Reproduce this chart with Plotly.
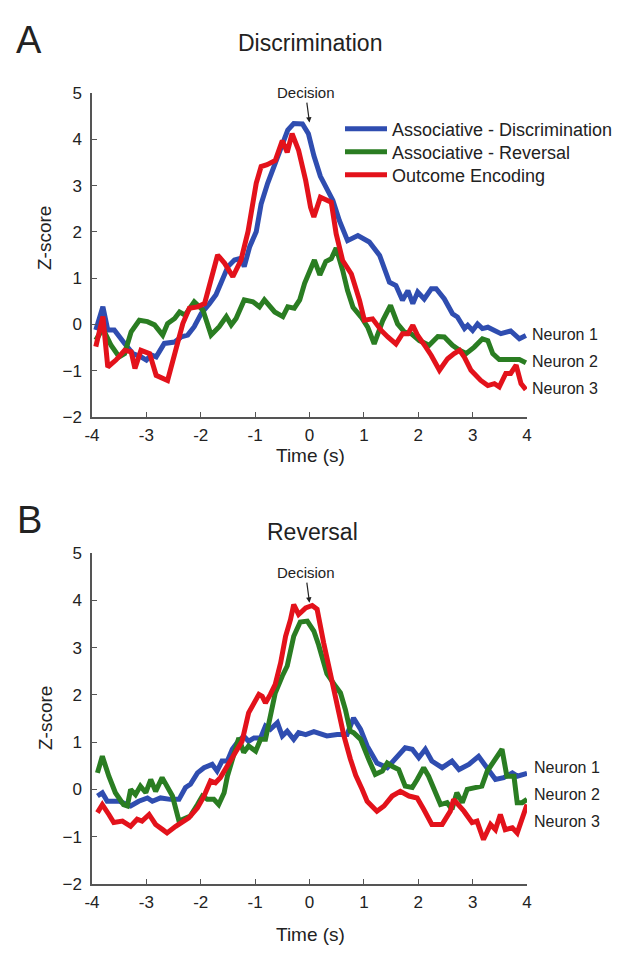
import plotly.graph_objects as go

# ---------------- data ----------------
# Panel A: Discrimination
a_blue_t = [-3.93, -3.80, -3.71, -3.59, -3.40, -3.25, -3.10, -3.00, -2.91, -2.82, -2.67, -2.48, -2.36, -2.24,
            -2.12, -1.99, -1.84, -1.72, -1.63, -1.50, -1.38, -1.26, -1.20, -1.10, -0.98, -0.89, -0.77, -0.64,
            -0.52, -0.40, -0.29, -0.13, -0.02, 0.08, 0.20, 0.43, 0.55, 0.70, 0.89, 1.10, 1.29, 1.47, 1.59,
            1.71, 1.81, 1.90, 1.99, 2.11, 2.24, 2.33, 2.48, 2.63, 2.72, 2.85, 2.91, 3.00, 3.09, 3.18, 3.28,
            3.40, 3.52, 3.70, 3.86, 3.98]
a_blue_v = [-0.12, 0.38, -0.12, -0.12, -0.41, -0.63, -0.70, -0.77, -0.66, -0.70, -0.41, -0.38, -0.27, -0.23,
            -0.05, 0.24, 0.45, 0.64, 0.89, 1.25, 1.39, 1.43, 1.25, 1.68, 2.00, 2.60, 3.05, 3.45,
            3.85, 4.20, 4.34, 4.33, 4.12, 3.65, 3.20, 2.68, 2.24, 1.81, 1.92, 1.78, 1.49, 0.91, 0.84,
            0.52, 0.73, 0.45, 0.70, 0.55, 0.77, 0.77, 0.55, 0.23, 0.16, -0.09, -0.02, -0.13, 0.01, -0.09, -0.06,
            -0.13, -0.20, -0.14, -0.31, -0.24]

a_green_t = [-3.93, -3.80, -3.65, -3.50, -3.40, -3.28, -3.13, -2.98, -2.85, -2.70, -2.61, -2.48, -2.39, -2.29,
             -2.12, -1.96, -1.81, -1.66, -1.53, -1.44, -1.35, -1.20, -1.04, -0.92, -0.83, -0.64, -0.49, -0.40,
             -0.28, -0.18, -0.09, 0.00, 0.09, 0.19, 0.30, 0.40, 0.49, 0.61, 0.70, 0.80, 0.95, 1.07, 1.19,
             1.35, 1.49, 1.62, 1.75, 1.87, 2.02, 2.20, 2.36, 2.48, 2.63, 2.76, 2.88, 3.03, 3.18, 3.28,
             3.37, 3.49, 3.70, 3.86, 3.98]
a_green_v = [-0.34, -0.09, -0.45, -0.70, -0.63, -0.16, 0.09, 0.06, -0.01, -0.23, 0.02, 0.13, 0.27, 0.20,
             0.49, 0.31, -0.23, -0.05, 0.17, -0.01, 0.13, 0.53, 0.49, 0.38, 0.53, 0.27, 0.17, 0.38,
             0.35, 0.53, 0.89, 1.14, 1.39, 1.07, 1.36, 1.42, 1.65, 1.17, 0.73, 0.37, 0.16, -0.06, -0.42,
             0.09, 0.41, 0.01, -0.17, -0.20, -0.35, -0.45, -0.26, -0.27, -0.45, -0.56, -0.63, -0.49, -0.31, -0.35,
             -0.63, -0.76, -0.76, -0.76, -0.83]

a_red_t = [-3.93, -3.80, -3.71, -3.56, -3.40, -3.28, -3.21, -3.10, -2.94, -2.82, -2.61, -2.48, -2.33, -2.21,
           -2.06, -1.93, -1.81, -1.69, -1.56, -1.41, -1.26, -1.13, -0.98, -0.89, -0.78, -0.63, -0.50, -0.41,
           -0.32, -0.20, -0.07, 0.02, 0.08, 0.20, 0.40, 0.49, 0.61, 0.77, 0.92, 1.01, 1.16, 1.32, 1.44,
           1.59, 1.71, 1.81, 1.90, 1.99, 2.14, 2.24, 2.39, 2.54, 2.66, 2.76, 2.85, 2.97, 3.15, 3.28,
           3.40, 3.49, 3.61, 3.70, 3.80, 3.89, 3.98]
a_red_v = [-0.48, 0.17, -0.92, -0.77, -0.56, -0.59, -0.95, -0.56, -0.63, -1.10, -1.21, -0.63, 0.02, 0.35,
           0.38, 0.45, 0.96, 1.50, 1.32, 1.03, 1.39, 2.01, 3.05, 3.41, 3.45, 3.54, 3.97, 3.72,
           4.12, 3.76, 3.11, 2.53, 2.32, 2.75, 2.64, 1.96, 1.38, 1.09, 0.52, 0.09, 0.12, -0.13, -0.27,
           -0.42, -0.20, -0.20, -0.02, -0.24, -0.49, -0.67, -0.99, -0.74, -0.63, -0.56, -0.71, -0.99, -1.21, -1.32,
           -1.28, -1.35, -1.06, -1.06, -0.88, -1.28, -1.41]

# Panel B: Reversal
b_blue_t = [-3.90, -3.81, -3.72, -3.50, -3.35, -3.29, -3.14, -2.98, -2.89, -2.74, -2.56, -2.40, -2.28, -2.19,
            -2.06, -1.94, -1.79, -1.70, -1.61, -1.51, -1.42, -1.33, -1.21, -1.12, -1.02, -0.90, -0.81, -0.72,
            -0.59, -0.50, -0.41, -0.29, -0.20, -0.07, 0.08, 0.32, 0.51, 0.69, 0.81, 0.94, 1.06, 1.24, 1.43,
            1.61, 1.76, 1.89, 2.01, 2.13, 2.25, 2.44, 2.62, 2.75, 2.93, 3.11, 3.27, 3.42, 3.57, 3.73, 3.82, 4.00]
b_blue_v = [-0.14, -0.07, -0.25, -0.25, -0.32, -0.35, -0.25, -0.18, -0.25, -0.18, -0.21, -0.21, 0.04, 0.11,
            0.35, 0.46, 0.53, 0.39, 0.60, 0.60, 0.85, 0.99, 1.13, 1.02, 1.09, 1.09, 1.34, 1.27,
            1.41, 1.13, 1.23, 1.06, 1.20, 1.16, 1.22, 1.13, 1.16, 1.16, 1.51, 1.27, 0.92, 0.56, 0.46,
            0.70, 0.88, 0.85, 0.67, 0.85, 0.60, 0.46, 0.60, 0.42, 0.53, 0.70, 0.46, 0.21, 0.25, 0.35, 0.28, 0.34]

b_green_t = [-3.90, -3.81, -3.69, -3.57, -3.42, -3.35, -3.29, -3.20, -3.11, -3.01, -2.92, -2.83, -2.71, -2.62,
             -2.52, -2.40, -2.28, -2.19, -2.06, -1.97, -1.88, -1.76, -1.67, -1.57, -1.51, -1.42, -1.30, -1.21,
             -1.12, -0.99, -0.90, -0.81, -0.72, -0.63, -0.50, -0.41, -0.29, -0.17, -0.04, 0.08, 0.17, 0.32,
             0.48, 0.57, 0.66, 0.75, 0.81, 0.94, 1.09, 1.21, 1.34, 1.43, 1.52, 1.64, 1.76, 1.89, 1.98, 2.10,
             2.19, 2.29, 2.41, 2.53, 2.62, 2.71, 2.81, 2.90, 3.02, 3.17, 3.27, 3.39, 3.54, 3.63, 3.76, 3.82,
             3.91, 4.00]
b_green_v = [0.35, 0.70, 0.28, -0.07, -0.32, -0.35, 0.00, -0.11, 0.07, -0.07, 0.21, -0.04, 0.25, 0.04,
             -0.14, -0.67, -0.60, -0.56, -0.32, -0.14, -0.21, -0.21, -0.32, -0.07, 0.28, 0.63, 1.09, 0.78,
             0.92, 0.81, 1.06, 1.06, 1.62, 2.04, 2.40, 2.61, 3.24, 3.54, 3.56, 3.35, 3.05, 2.45,
             2.18, 2.04, 1.69, 1.23, 1.20, 1.06, 0.63, 0.32, 0.39, 0.56, 0.49, 0.42, 0.07, 0.04, 0.21, 0.46,
             0.28, 0.00, -0.32, -0.28, -0.42, -0.07, -0.28, 0.00, 0.04, 0.07, 0.39, 0.60, 0.85, 0.28, 0.28, -0.28,
             -0.28, -0.21]

b_red_t = [-3.90, -3.81, -3.69, -3.60, -3.44, -3.29, -3.17, -3.08, -2.95, -2.83, -2.70, -2.62, -2.46, -2.34,
           -2.22, -2.06, -1.94, -1.82, -1.73, -1.64, -1.51, -1.36, -1.24, -1.12, -1.02, -0.93, -0.87, -0.81,
           -0.72, -0.63, -0.53, -0.44, -0.35, -0.29, -0.20, -0.07, 0.05, 0.14, 0.26, 0.39, 0.51, 0.63, 0.75,
           0.85, 0.97, 1.06, 1.24, 1.37, 1.52, 1.67, 1.83, 1.98, 2.10, 2.25, 2.44, 2.59, 2.65, 2.84, 2.99,
           3.08, 3.20, 3.33, 3.42, 3.51, 3.60, 3.73, 3.82, 3.91, 4.00]
b_red_v = [-0.49, -0.32, -0.53, -0.70, -0.67, -0.78, -0.63, -0.67, -0.53, -0.74, -0.85, -0.92, -0.78, -0.70,
           -0.60, -0.39, -0.14, 0.18, 0.14, 0.25, 0.49, 0.78, 1.02, 1.62, 1.83, 2.01, 1.97, 1.83,
           2.01, 2.22, 2.68, 3.24, 3.59, 3.91, 3.70, 3.84, 3.89, 3.81, 3.10, 2.40, 1.80, 1.15, 0.65,
           0.30, 0.00, -0.25, -0.46, -0.35, -0.14, -0.04, -0.14, -0.18, -0.42, -0.74, -0.74, -0.46, -0.21, -0.46, -0.70,
           -0.67, -1.06, -0.74, -0.85, -0.53, -0.85, -0.81, -0.92, -0.60, -0.32]

series_names = ["Associative - Discrimination", "Associative - Reversal", "Outcome Encoding"]
neuron_labels = ["Neuron 1", "Neuron 2", "Neuron 3"]
x_ticks = [-4, -3, -2, -1, 0, 1, 2, 3, 4]
x_ticktext = ["-4", "-3", "-2", "-1", "0", "1", "2", "3", "4"]
y_ticks = [-2, -1, 0, 1, 2, 3, 4, 5]

# ---------------- styling ----------------
W, H = 626, 958
OFF = 8  # page body margin offset of the rendered figure
FONT = "Liberation Sans, Arial, sans-serif"
colors = ["#2f4db0", "#2a7d22", "#e3121b"]


def px(x):
    return (x - OFF) / W


def py(y):
    return 1 - (y - OFF) / H


fig = go.Figure()
panelA = [(a_blue_t, a_blue_v), (a_green_t, a_green_v), (a_red_t, a_red_v)]
panelB = [(b_blue_t, b_blue_v), (b_green_t, b_green_v), (b_red_t, b_red_v)]
legend_ids = ["legend", "legend2", "legend3"]
for i, (t, v) in enumerate(panelA):
    fig.add_trace(go.Scatter(x=t, y=v, mode="lines", name=series_names[i],
                             line=dict(color=colors[i], width=5),
                             xaxis="x", yaxis="y", showlegend=True, legend=legend_ids[i]))
for i, (t, v) in enumerate(panelB):
    fig.add_trace(go.Scatter(x=t, y=v, mode="lines", name=series_names[i],
                             line=dict(color=colors[i], width=5),
                             xaxis="x2", yaxis="y2", showlegend=False))

axis_common = dict(showline=True, linecolor="#555", linewidth=1.5, ticks="inside", ticklen=5,
                   tickcolor="#555", tickwidth=1.2, showgrid=False, zeroline=False,
                   tickfont=dict(family=FONT, size=17, color="#222"))
xdom = [px(92), px(527)]


def leg(yc):
    return dict(x=px(340), y=py(yc), xanchor="left", yanchor="middle", bgcolor="rgba(0,0,0,0)",
                font=dict(family=FONT, size=18, color="#222"), itemwidth=42, tracegroupgap=0)


fig.update_layout(
    width=W, height=H, margin=dict(l=0, r=0, t=0, b=0, autoexpand=False),
    paper_bgcolor="white", plot_bgcolor="white",
    font=dict(family=FONT, color="#222"),
    xaxis=dict(domain=xdom, anchor="y", range=[-4, 4], tickvals=x_ticks, ticktext=x_ticktext,
               ticklabelstandoff=2, **axis_common),
    yaxis=dict(domain=[py(417), py(93)], anchor="x", range=[-2, 5], tickvals=y_ticks,
               ticklabelstandoff=5, **axis_common),
    xaxis2=dict(domain=xdom, anchor="y2", range=[-4, 4], tickvals=x_ticks, ticktext=x_ticktext,
                ticklabelstandoff=2, **axis_common),
    yaxis2=dict(domain=[py(884), py(553)], anchor="x2", range=[-2, 5], tickvals=y_ticks,
                ticklabelstandoff=5, **axis_common),
    legend=leg(129), legend2=leg(152), legend3=leg(175),
    showlegend=True,
)

ann = []


def txt(text, x, y, size, **kw):
    d = dict(text=text, x=px(x), y=py(y), xref="paper", yref="paper", showarrow=False,
             xanchor="center", yanchor="middle", font=dict(family=FONT, size=size, color="#222"))
    d.update(kw)
    return d


# panel letters and titles
ann.append(txt("A", 29, 40, 38))
ann.append(txt("B", 29, 520, 38))
ann.append(txt("Discrimination", 310, 43, 23))
ann.append(txt("Reversal", 312, 532, 23))
# axis titles
for yy in (455, 934):
    ann.append(txt("Time (s)", 310, yy, 19))
for yy in (238, 718):
    ann.append(txt("Z-score", 45, yy, 19, textangle=-90))
# decision markers
ann.append(dict(text="Decision", x=0, y=4.36, xref="x", yref="y", ax=-4, ay=-30, showarrow=True,
                arrowhead=2, arrowsize=0.9, arrowwidth=1.2, arrowcolor="#222",
                font=dict(family=FONT, size=15, color="#222")))
ann.append(dict(text="Decision", x=0, y=3.95, xref="x2", yref="y2", ax=-4, ay=-30, showarrow=True,
                arrowhead=2, arrowsize=0.9, arrowwidth=1.2, arrowcolor="#222",
                font=dict(family=FONT, size=15, color="#222")))
# neuron labels (to the right of the line ends)
for lab, yy in zip(neuron_labels, (335, 362, 389)):
    ann.append(txt(lab, 530, yy, 16, xanchor="left"))
for lab, yy in zip(neuron_labels, (767, 794, 821)):
    ann.append(txt(lab, 532, yy, 16, xanchor="left"))
fig.update_layout(annotations=ann)

fig.write_html("out.html")
